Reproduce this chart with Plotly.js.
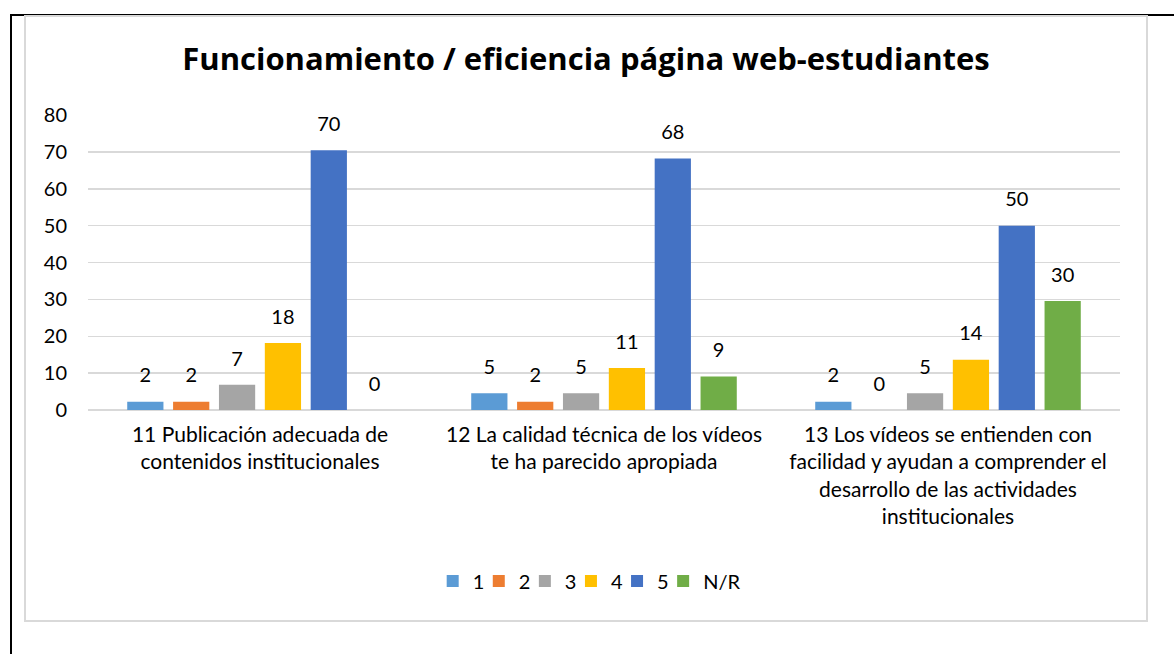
<!DOCTYPE html>
<html>
<head>
<meta charset="utf-8">
<script src="https://cdn.plot.ly/plotly-3.0.1.min.js"></script>
<style>
  html, body { margin: 0; padding: 0; background: #fff; width: 1174px; height: 654px; overflow: hidden; }
  #topline { position: absolute; left: 10px; top: 14px; width: 1164px; height: 2px; background: #000; }
  #leftline { position: absolute; left: 10px; top: 14px; width: 2px; height: 640px; background: #000; }
  #box { position: absolute; left: 24px; top: 15px; width: 1120px; height: 603px; border: 2px solid #d9d9d9; background: #fff; }
  #chart { width: 1120px; height: 603px; }
</style>
</head>
<body>
<div id="topline"></div>
<div id="leftline"></div>
<div id="box"><div id="chart"></div></div>
<script>
const categories = [
  "11 Publicación adecuada de<br>contenidos institucionales",
  "12 La calidad técnica de los vídeos<br>te ha parecido apropiada",
  "13 Los vídeos se entienden con<br>facilidad y ayudan a comprender el<br>desarrollo de las actividades<br>institucionales"
];
const seriesNames = ["1", "2", "3", "4", "5", "N/R"];
const s1 = [2.27, 4.55, 2.27];
const s2 = [2.27, 2.27, 0];
const s3 = [6.82, 4.55, 4.55];
const s4 = [18.18, 11.36, 13.64];
const s5 = [70.45, 68.18, 50.00];
const sNR = [0, 9.09, 29.55];
const seriesValues = [s1, s2, s3, s4, s5, sNR];
const colors = ["#5b9bd5", "#ed7d31", "#a5a5a5", "#ffc000", "#4472c4", "#70ad47"];
const yTicks = [0, 10, 20, 30, 40, 50, 60, 70, 80];

const FONT = "Lato, 'Open Sans', sans-serif";
const legendKey = i => (i === 0 ? "legend" : "legend" + (i + 1));

const traces = seriesValues.map((vals, i) => ({
  type: "bar",
  name: seriesNames[i],
  x: categories,
  y: vals,
  marker: { color: colors[i] },
  texttemplate: "<span style='font-size:20px'>%{y:.0f}</span><br><span style='font-size:11px'> </span>",
  textposition: "outside",
  constraintext: "none",
  textfont: { family: FONT, size: 11, color: "#000" },
  cliponaxis: false,
  hoverinfo: "skip",
  legend: legendKey(i)
}));

const layout = {
  width: 1120,
  height: 603,
  margin: { l: 62, r: 26, t: 98, b: 210 },
  paper_bgcolor: "#fff",
  plot_bgcolor: "#fff",
  barmode: "group",
  bargap: 0.2,
  bargroupgap: 0.21,
  font: { family: FONT, size: 20, color: "#000" },
  title: {
    text: "<b>Funcionamiento / eficiencia página web-estudiantes</b>",
    font: { family: "'Open Sans', sans-serif", size: 31, color: "#000" },
    x: 0.5, xref: "container", xanchor: "center",
    y: 0.93, yref: "container", yanchor: "middle"
  },
  xaxis: {
    type: "category",
    showgrid: false,
    showline: false,
    zeroline: false,
    ticks: "",
    tickfont: { family: FONT, size: 21, color: "#000" },
    ticklabelstandoff: 10
  },
  yaxis: {
    range: [0, 80],
    tickvals: yTicks,
    ticktext: yTicks.map(String),
    showgrid: true,
    gridcolor: "#d9d9d9",
    gridwidth: 1.5,
    zeroline: true,
    zerolinecolor: "#d9d9d9",
    zerolinewidth: 1.5,
    showline: false,
    ticks: "",
    tickfont: { family: FONT, size: 20, color: "#000" },
    ticklabelstandoff: 20
  },
  showlegend: true
};

// one small legend box per series, laid out side by side like the reference
seriesNames.forEach((_, i) => {
  layout[legendKey(i)] = {
    orientation: "h",
    x: 0.334 + i * 0.04466, xanchor: "left",
    y: -0.58, yanchor: "middle",
    bgcolor: "rgba(0,0,0,0)",
    font: { family: FONT, size: 20, color: "#000" },
    itemwidth: 30
  };
});

Plotly.newPlot("chart", traces, layout, { displayModeBar: false, staticPlot: true });
</script>
</body>
</html>
